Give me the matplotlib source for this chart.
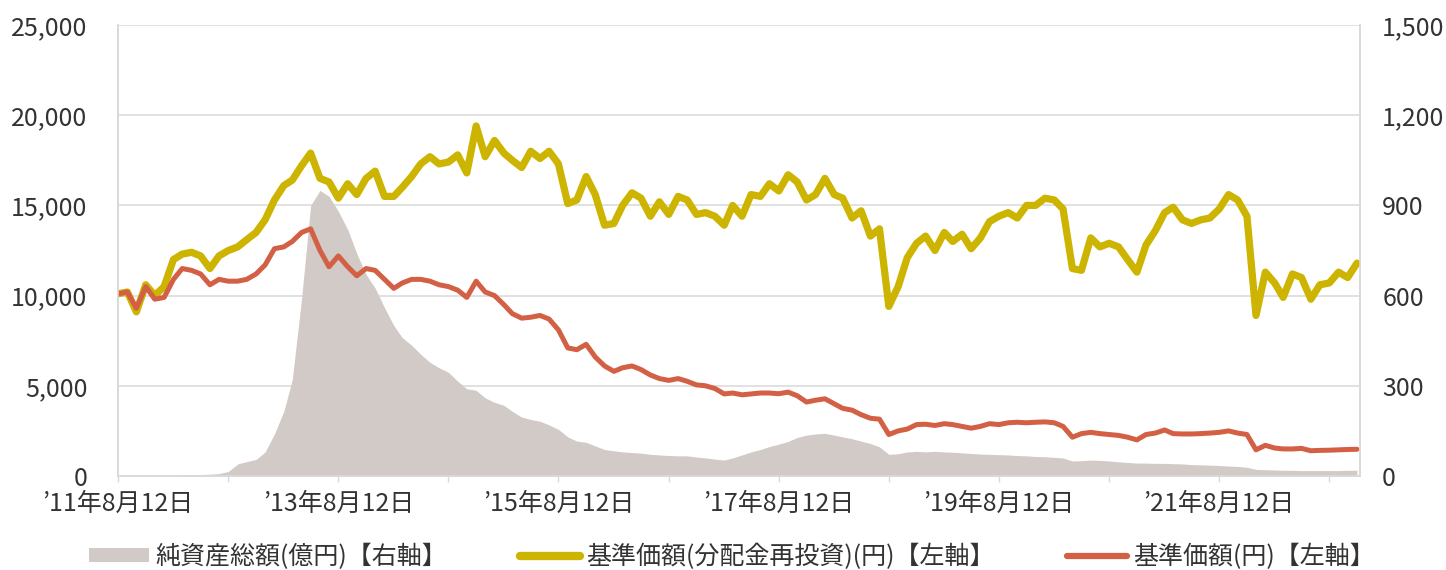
import numpy as np
import pandas as pd
import matplotlib
matplotlib.use('Agg')
import matplotlib.pyplot as plt
from matplotlib.ticker import FuncFormatter, FixedLocator
from matplotlib.patches import Patch
from matplotlib.lines import Line2D

plt.rcParams['font.family'] = ['Noto Sans CJK JP', 'DejaVu Sans']

# monthly points from 2011-08-12
start = pd.Timestamp('2011-08-12')
n_points = 136
dates = [start + pd.DateOffset(months=i) for i in range(n_points)]

# 基準価額(分配金再投資)(円)
nav_reinvest = [
    10100, 10200, 9100, 10600, 10000, 10500, 12000, 12300, 12400, 12200,
    11500, 12200, 12500, 12700, 13100, 13500, 14200, 15300, 16100, 16400,
    17200, 17900, 16500, 16300, 15400, 16200, 15600, 16500, 16900, 15500,
    15500, 16000, 16600, 17300, 17700, 17300, 17400, 17800, 16800, 19400,
    17700, 18600, 17900, 17500, 17100, 18000, 17600, 18000, 17300, 15100,
    15300, 16600, 15600, 13900, 14000, 15000, 15700, 15400, 14400, 15200,
    14500, 15500, 15300, 14500, 14600, 14400, 13900, 15000, 14400, 15600,
    15500, 16200, 15800, 16700, 16300, 15300, 15600, 16500, 15600, 15400,
    14300, 14700, 13300, 13700, 9400, 10500, 12100, 12900, 13300, 12500,
    13500, 13000, 13400, 12600, 13200, 14100, 14400, 14600, 14300, 15000,
    15000, 15400, 15300, 14800, 11500, 11400, 13200, 12700, 12900, 12700,
    12000, 11300, 12800, 13600, 14600, 14900, 14200, 14000, 14200, 14300,
    14800, 15600, 15300, 14400, 8900, 11300, 10700, 9900, 11200, 11000,
    9800, 10600, 10700, 11300, 11000, 11800,
]

# 基準価額(円)
nav = [
    10100, 10200, 9300, 10500, 9800, 9900, 10900, 11500, 11400, 11200,
    10600, 10900, 10800, 10800, 10900, 11200, 11700, 12600, 12700, 13000,
    13500, 13700, 12500, 11600, 12200, 11600, 11100, 11500, 11400, 10900,
    10400, 10700, 10900, 10900, 10800, 10600, 10500, 10300, 9900, 10800,
    10200, 10000, 9500, 9000, 8750, 8800, 8900, 8700, 8100, 7100,
    7000, 7300, 6600, 6100, 5800, 6000, 6100, 5900, 5600, 5400,
    5300, 5400, 5250, 5050, 5000, 4850, 4550, 4600, 4500, 4550,
    4600, 4600, 4560, 4650, 4450, 4100, 4200, 4280, 4000, 3750,
    3650, 3400, 3200, 3150, 2300, 2500, 2600, 2850, 2870, 2800,
    2900, 2850, 2750, 2650, 2750, 2900, 2850, 2950, 2980, 2950,
    2980, 3000, 2950, 2750, 2150, 2350, 2420, 2350, 2300, 2250,
    2150, 2000, 2300, 2380, 2550, 2350, 2330, 2330, 2350, 2380,
    2420, 2500, 2380, 2300, 1450, 1700, 1550, 1500, 1500, 1530,
    1400, 1420, 1430, 1450, 1470, 1480,
]

# 純資産総額(億円)
net_assets = [
    0, 0.5, 0.8, 1, 1.2, 1.5, 2, 3, 4, 5,
    6, 8, 15, 40, 48, 55, 80, 140, 215, 320,
    590, 900, 950, 930, 880, 820, 740, 670, 625, 560,
    500, 460, 435, 405, 378, 360, 345, 315, 290, 285,
    260, 245, 235, 215, 196, 188, 182, 170, 155, 130,
    116, 112, 100, 88, 84, 80, 78, 76, 72, 70,
    68, 67, 67, 63, 60, 56, 53, 60, 70, 80,
    88, 98, 106, 115, 128, 136, 140, 142, 136, 130,
    124, 116, 108, 97, 72, 74, 80, 82, 80, 82,
    80, 79, 77, 75, 73, 72, 71, 70, 68, 67,
    65, 64, 62, 60, 50, 51, 53, 52, 50, 47,
    45, 43, 43, 42, 42, 41, 40, 38, 37, 36,
    35, 33, 32, 29, 22, 21, 20, 19, 19, 18,
    18, 18, 18, 18, 19, 19,
]

left_ticks = [0, 5000, 10000, 15000, 20000, 25000]
right_ticks = [0, 300, 600, 900, 1200, 1500]
tick_years = list(range(2011, 2023))

col_area = '#d1cac7'
col_reinv = '#ccb400'
col_nav = '#d35f45'
col_grid = '#d9d9d9'
col_text = '#333333'

fig = plt.figure(figsize=(14.46, 5.70), dpi=100)
ax = fig.add_axes([118 / 1446, 1 - 476 / 570, (1360 - 118) / 1446, (476 - 25) / 570])
ax2 = ax.twinx()
ax.set_zorder(2)
ax2.set_zorder(1)
ax.patch.set_visible(False)

# area on the right axis, lines on the left axis
ax2.fill_between(dates, net_assets, 0, color=col_area, linewidth=0)
ax.plot(dates, nav_reinvest, color=col_reinv, linewidth=5.2, solid_capstyle='round',
        solid_joinstyle='round')
ax.plot(dates, nav, color=col_nav, linewidth=3.6, solid_capstyle='round',
        solid_joinstyle='round')

ax.set_ylim(0, 25000)
ax2.set_ylim(0, 1500)
ax.set_xlim(start, pd.Timestamp('2022-11-22'))

ax.yaxis.set_major_locator(FixedLocator(left_ticks))
ax2.yaxis.set_major_locator(FixedLocator(right_ticks))
ax.yaxis.set_major_formatter(FuncFormatter(lambda v, p: f'{int(v):,}'))
ax2.yaxis.set_major_formatter(FuncFormatter(lambda v, p: f'{int(v):,}'))

ax2.grid(axis='y', color=col_grid, linewidth=1.1)
ax2.set_axisbelow(True)

tick_dates = [pd.Timestamp(f'{y}-08-12') for y in tick_years]
ax.set_xticks(tick_dates)
ax.set_xticklabels([f'\u2019{y % 100:02d}年8月12日' if (y - 2011) % 2 == 0 else ''
                    for y in tick_years])

ax.tick_params(axis='y', length=0, pad=22, labelsize=18, labelcolor=col_text)
ax2.tick_params(axis='y', length=0, pad=16, labelsize=18, labelcolor=col_text)
ax.tick_params(axis='x', length=4, width=1, color=col_grid, pad=7,
               labelsize=18, labelcolor=col_text)

for a in (ax, ax2):
    for s in a.spines.values():
        s.set_color(col_grid)
        s.set_linewidth(1.1)
    a.spines['top'].set_visible(False)

handles = [
    Patch(facecolor=col_area, edgecolor='none', label='純資産総額(億円)【右軸】'),
    Line2D([], [], color=col_reinv, linewidth=6, solid_capstyle='round',
           label='基準価額(分配金再投資)(円)【左軸】'),
    Line2D([], [], color=col_nav, linewidth=4.5, solid_capstyle='round',
           label='基準価額(円)【左軸】'),
]
leg = fig.legend(handles=handles, loc='center', bbox_to_anchor=(732 / 1446, 1 - 557 / 570),
                 ncol=3, frameon=False, fontsize=18, handlelength=2.4, handleheight=0.5,
                 handletextpad=0.25, columnspacing=2.9, borderpad=0)
for t in leg.get_texts():
    t.set_color(col_text)

fig.savefig('out.png', dpi=100)
